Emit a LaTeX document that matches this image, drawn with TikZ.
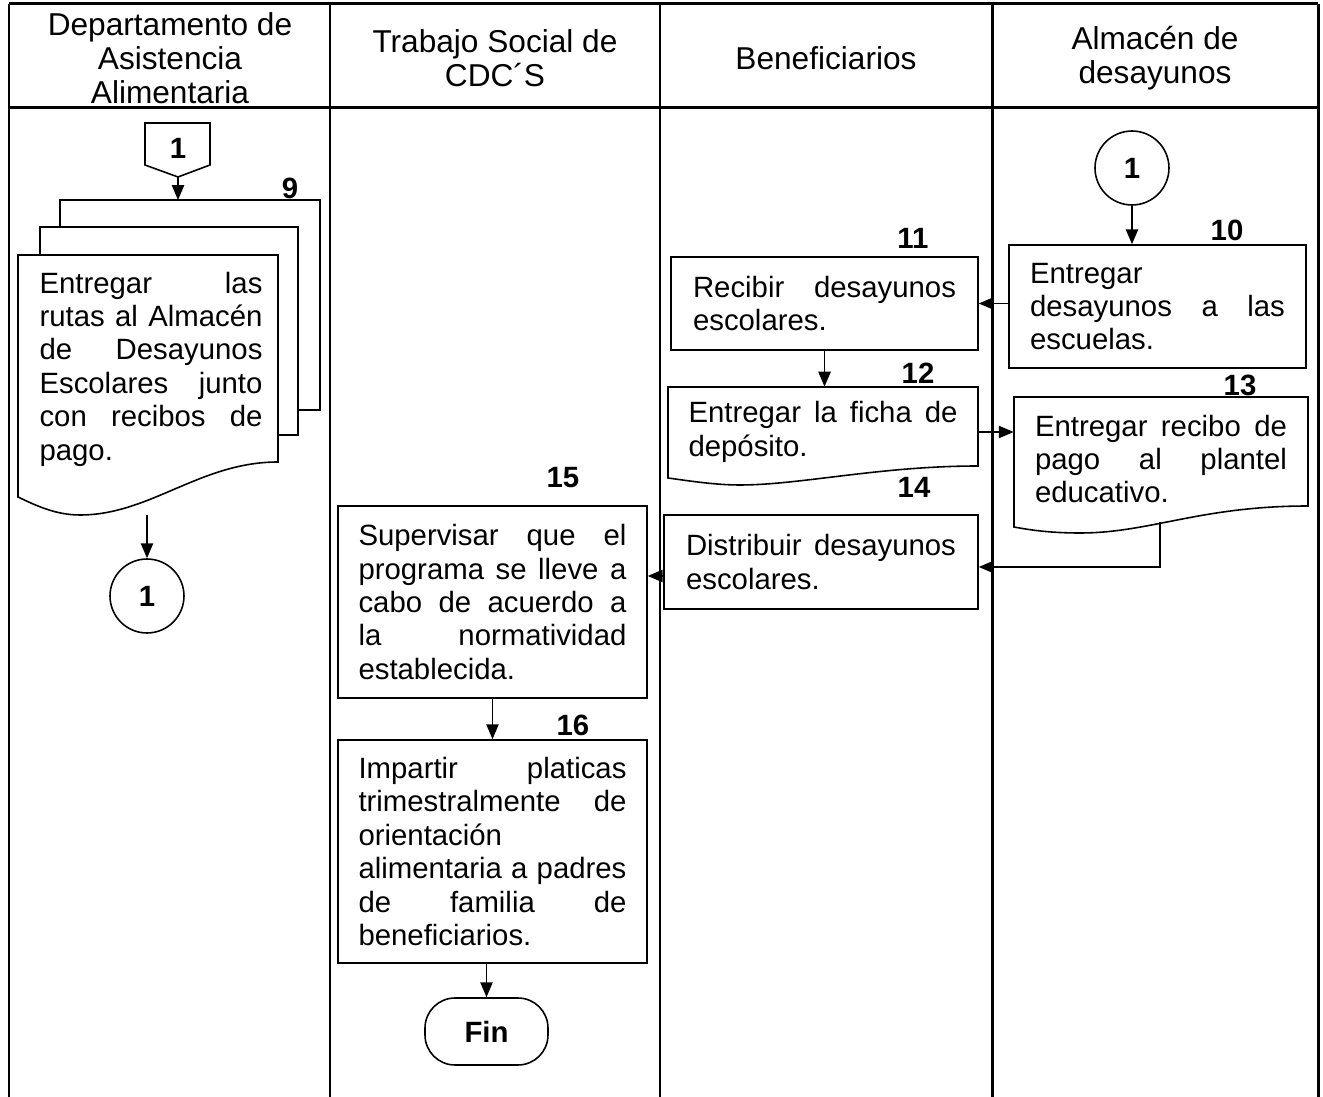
\documentclass[tikz,border=0pt]{standalone}
\usepackage{fontspec}
\setmainfont{Liberation Sans}
\usetikzlibrary{arrows.meta,calc}

\begin{document}
\begin{tikzpicture}[x=0.02cm,y=-0.02cm,
  every node/.style={font=\fontsize{16.7}{19}\selectfont},
  encabezado/.style={align=center,font=\fontsize{18}{19.3}\selectfont},
  caja/.style={draw,line width=0.9pt,align=justify,inner sep=0pt},
  texto/.style={align=justify,inner sep=0pt},
  conector/.style={draw,circle,line width=0.9pt,minimum size=1.48cm,inner sep=0pt,font=\fontsize{16.7}{19}\selectfont\bfseries},
  terminal/.style={draw,line width=0.9pt,rounded corners=0.6cm,minimum width=2.46cm,minimum height=1.34cm,font=\fontsize{16.7}{19}\selectfont\bfseries},
  numero/.style={font=\fontsize{16.7}{19}\selectfont\bfseries},
  flecha/.style={line width=0.9pt,-{Triangle[length=8.5pt,width=7pt]}},
  linea/.style={line width=0.9pt},
  marco/.style={line width=1.7pt}]
\useasboundingbox (0,0) rectangle (1323,1097);
% marco y columnas
\draw[marco] (9,4) -- (1318,4);
\draw[marco] (9,108) -- (1318,108);
\foreach \x in {9,330,660,992,1318} \draw[marco] (\x,4) -- (\x,1097);
\node[encabezado] (h1) at (170,58) {Departamento de\\Asistencia\\Alimentaria};
\node[encabezado] (h2) at (495,58) {Trabajo Social de\\CDC´S};
\node[encabezado] (h3) at (826,58) {Beneficiarios};
\node[encabezado] (h4) at (1155,58) {Almacén de\\desayunos};
% Departamento de Asistencia Alimentaria
\draw[linea] (145,123) -- (210,123) -- (210,165) -- (178,177) -- (145,165) -- cycle;
\node[numero] (p1) at (178,148) {1};
\coordinate (p1s) at (178,177);
\coordinate (m9) at (178,200);
\draw[linea] (60,227) -- (60,200) -- (320,200) -- (320,410) -- (298,410);
\draw[linea] (40,255) -- (40,227) -- (298,227) -- (298,435) -- (278,435);
\draw[linea] (18,255) -- (278,255) -- (278,462) .. controls (200,462) and (150,515) .. (80,515) .. controls (55,515) and (35,505) .. (18,497) -- cycle;
\node[texto,text width=4.46cm] (d9) at (151,369) {Entregar~las\linebreak rutas~al~Almacén\linebreak de~Desayunos\linebreak Escolares~junto\linebreak con~recibos~de\linebreak pago.};
\node[numero] (n9) at (290,188) {9};
\coordinate (s9) at (147,515);
\node[conector] (c1) at (147,596) {1};
\draw[flecha] (p1s) -- (m9);
\draw[flecha] (s9) -- (c1);
% Almacen de desayunos
\node[conector] (c2) at (1132,168) {1};
\node[caja,text width=5.1cm,minimum width=5.94cm,minimum height=2.46cm] (b10) at (1157.5,306.5) {Entregar\linebreak desayunos~a~las\linebreak escuelas.};
\node[numero] (n10) at (1227,230) {10};
\draw[flecha] (c2) -- (c2 |- b10.north);
\node[texto,text width=5.04cm,minimum width=5.88cm,minimum height=2.48cm] (d13) at (1161,459) {Entregar~recibo~de\linebreak pago~al~plantel\linebreak educativo.};
\draw[linea] (1014,397) -- (1308,397) -- (1308,506) .. controls (1200,506) and (1150,533) .. (1080,533) .. controls (1050,533) and (1030,530) .. (1014,527) -- cycle;
\node[numero] (n13) at (1240,385) {13};
\coordinate (s13) at (1160,522);
% Beneficiarios
\node[caja,text width=5.26cm,minimum width=6.14cm,minimum height=1.86cm] (b11) at (824.5,303.5) {Recibir~desayunos\linebreak escolares.};
\node[numero] (n11) at (913,238) {11};
\node[texto,text width=5.38cm,minimum width=6.2cm,minimum height=1.8cm] (d12) at (823,432) {Entregar~la~ficha~de\linebreak depósito.};
\draw[linea] (668,387) -- (978,387) -- (978,466) .. controls (880,466) and (800,485) .. (740,485) .. controls (715,485) and (690,481) .. (668,478) -- cycle;
\node[numero] (n12) at (918,373) {12};
\node[caja,text width=5.4cm,minimum width=6.28cm,minimum height=1.88cm] (b14) at (821,562) {Distribuir~desayunos\linebreak escolares.};
\node[numero] (n14) at (914,487) {14};
\draw[flecha] (b10.west |- b11) -- (b11.east);
\draw[flecha] (b11) -- (b11.south |- d12.north);
\draw[flecha] (d12.east) -- (d12.east -| d13.west);
\draw[flecha] (s13) |- ($(b14.east)+(0,5)$);
% Trabajo Social de CDC'S
\node[caja,text width=5.36cm,minimum width=6.18cm,minimum height=3.84cm] (b15) at (492.5,602) {Supervisar~que~el\linebreak programa~se~lleve~a\linebreak cabo~de~acuerdo~a\linebreak la~normatividad\linebreak establecida.};
\node[numero] (n15) at (563,478) {15};
\node[caja,text width=5.36cm,minimum width=6.18cm,minimum height=4.46cm] (b16) at (492.5,851.5) {Impartir~platicas\linebreak trimestralmente~de\linebreak orientación\linebreak alimentaria~a~padres\linebreak de~familia~de\linebreak beneficiarios.};
\node[numero] (n16) at (573,725) {16};
\node[terminal] (fin) at (486.5,1031.5) {Fin};
\draw[flecha] ($(b14.west)+(0,14)$) coordinate (a14) -- (a14 -| b15.east);
\draw[flecha] (b15) -- (b16);
\draw[flecha] (b16.south -| fin) -- (fin);
\end{tikzpicture}
\end{document}
